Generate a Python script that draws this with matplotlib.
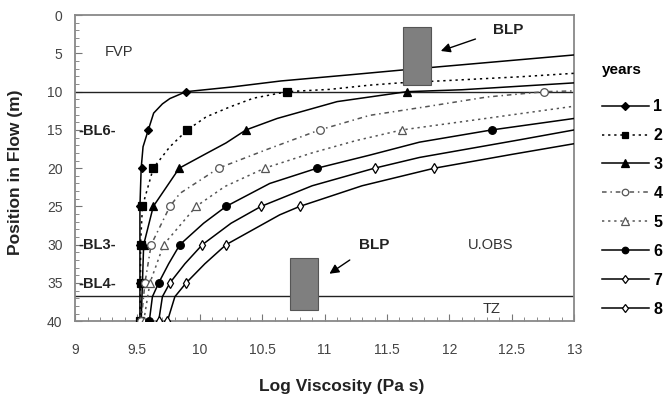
import matplotlib
matplotlib.use("Agg")
import matplotlib.pyplot as plt
from matplotlib.ticker import MultipleLocator
from matplotlib.patches import Rectangle

plt.rcParams['font.family'] = ['Liberation Sans', 'DejaVu Sans']

# ---- data ----
years = ['1', '2', '3', '4', '5', '6', '7', '8']
marker_depths = [10, 15, 20, 25, 30, 35, 40]

# marker positions (log viscosity) at each marker depth (None = no marker)
m1 = [9.89, 9.587, 9.534, 9.52, 9.52, 9.52, 9.52]
m2 = [10.70, 9.90, 9.627, 9.54, 9.525, 9.525, 9.52]
m3 = [11.66, 10.37, 9.835, 9.627, 9.55, 9.54, 9.53]
m4 = [12.76, 10.96, 10.15, 9.76, 9.61, 9.56, 9.53]
m5 = [None, 11.62, 10.52, 9.97, 9.71, 9.60, 9.55]
m6 = [None, 12.34, 10.94, 10.21, 9.84, 9.67, 9.595]
m7 = [None, None, 11.40, 10.49, 10.02, 9.76, 9.67]
m8 = [None, None, 11.88, 10.80, 10.21, 9.89, 9.74]

# curve paths (log viscosity, depth)
c1_x = [9.52, 9.52, 9.52, 9.52, 9.53, 9.545, 9.587, 9.63, 9.70, 9.76, 9.89, 10.25, 10.65, 11.2, 11.6, 12.3, 13.0]
c1_d = [40, 35, 30, 25, 20, 17.2, 15, 12.8, 11.6, 10.9, 10, 9.4, 8.6, 7.8, 7.2, 6.2, 5.2]
c2_x = [9.52, 9.525, 9.525, 9.54, 9.627, 9.76, 9.90, 10.05, 10.24, 10.43, 10.70, 11.04, 11.36, 11.6, 11.92, 12.56, 13.0]
c2_d = [40, 35, 30, 25, 20, 17.2, 15, 13.3, 12.0, 10.85, 10, 9.7, 9.15, 8.85, 8.6, 8.06, 7.6]
c3_x = [9.53, 9.54, 9.55, 9.627, 9.835, 10.05, 10.21, 10.37, 10.62, 11.1, 11.66, 12.1, 12.5, 13.0]
c3_d = [40, 35, 30, 25, 20, 18.1, 16.7, 15, 13.5, 11.3, 10, 9.75, 9.35, 8.85]
c4_x = [9.53, 9.56, 9.61, 9.76, 9.84, 10.15, 10.53, 10.96, 11.36, 11.8, 12.3, 12.76, 13.0]
c4_d = [40, 35, 30, 25, 23.3, 20, 17.6, 15, 13.1, 12.0, 10.7, 10, 9.9]
c5_x = [9.55, 9.60, 9.71, 9.97, 10.2, 10.52, 10.9, 11.25, 11.62, 12.38, 13.0]
c5_d = [40, 35, 30, 25, 22.4, 20, 18.0, 16.4, 15, 13.3, 11.9]
c6_x = [9.595, 9.62, 9.67, 9.75, 9.84, 10.03, 10.21, 10.56, 10.94, 11.36, 11.76, 12.34, 13.0]
c6_d = [40, 36.8, 35, 32.5, 30, 27.2, 25, 22.0, 20, 18.3, 16.6, 15, 13.5]
c7_x = [9.67, 9.70, 9.76, 9.88, 10.02, 10.25, 10.49, 10.9, 11.40, 11.76, 12.56, 13.0]
c7_d = [40, 36.8, 35, 32.5, 30, 27.2, 25, 22.3, 20, 18.6, 16.3, 15.0]
c8_x = [9.74, 9.80, 9.89, 10.04, 10.21, 10.64, 10.80, 11.3, 11.88, 12.5, 13.0]
c8_d = [40, 36.8, 35, 32.5, 30, 26.1, 25, 22.3, 20, 18.2, 16.8]

# ---- styles ----
styles = [
    dict(color='black', ls='-', marker='D', mfc='black', ms=4.5),
    dict(color='black', ls=(0, (1.5, 2.5)), marker='s', mfc='black', ms=5.5),
    dict(color='black', ls='-', marker='^', mfc='black', ms=6),
    dict(color='#555555', ls=(0, (3, 2.5, 1, 2.5)), marker='o', mfc='white', ms=5.5),
    dict(color='#555555', ls=(0, (1.5, 2.5)), marker='^', mfc='white', ms=6),
    dict(color='black', ls='-', marker='o', mfc='black', ms=5.5),
    dict(color='black', ls='-', marker='d', mfc='white', ms=5),
    dict(color='black', ls='-', marker='d', mfc='white', ms=5),
]
curves = [(c1_x, c1_d), (c2_x, c2_d), (c3_x, c3_d), (c4_x, c4_d),
          (c5_x, c5_d), (c6_x, c6_d), (c7_x, c7_d), (c8_x, c8_d)]
marks = [m1, m2, m3, m4, m5, m6, m7, m8]

fig = plt.figure(figsize=(6.70, 3.99), dpi=100)
ax = fig.add_axes([0.112, 0.195, 0.745, 0.767])

handles = []
for (cx, cd), mk, st, lab in zip(curves, marks, styles, years):
    ax.plot(cx, cd, color=st['color'], ls=st['ls'], lw=1.1, zorder=3)
    px = [v for v in mk if v is not None]
    pd_ = [d for v, d in zip(mk, marker_depths) if v is not None]
    ax.plot(px, pd_, ls='none', marker=st['marker'], ms=st['ms'],
            mfc=st['mfc'], mec=st['color'], mew=0.9, zorder=4)
    h, = ax.plot([], [], color=st['color'], ls=st['ls'], lw=1.1,
                 marker=st['marker'], ms=st['ms'] * 0.85, mfc=st['mfc'],
                 mec=st['color'], mew=0.9, label=lab)
    handles.append(h)

# boundary lines
ax.axhline(10, color='#222222', lw=1.0, zorder=2)
ax.axhline(36.7, color='#222222', lw=1.0, zorder=2)

# BLP boxes
ax.add_patch(Rectangle((11.63, 1.5), 0.22, 7.6, facecolor='#7f7f7f',
                       edgecolor='#555555', lw=0.8, zorder=5))
ax.add_patch(Rectangle((10.72, 31.7), 0.23, 6.8, facecolor='#7f7f7f',
                       edgecolor='#555555', lw=0.8, zorder=5))

# arrows and labels
ax.annotate('', xy=(11.91, 4.8), xytext=(12.23, 3.0),
            arrowprops=dict(arrowstyle='-|>', color='black', lw=1.0,
                            mutation_scale=14), zorder=6)
ax.annotate('', xy=(11.02, 34.0), xytext=(11.22, 31.8),
            arrowprops=dict(arrowstyle='-|>', color='black', lw=1.0,
                            mutation_scale=14), zorder=6)
ax.text(12.47, 2.0, 'BLP', fontsize=11, fontweight='bold', ha='center', va='center', color='#222222')
ax.text(11.40, 30.1, 'BLP', fontsize=11, fontweight='bold', ha='center', va='center', color='#222222')
ax.text(12.33, 30.1, 'U.OBS', fontsize=10.5, ha='center', va='center', color='#333333')
ax.text(12.34, 38.4, 'TZ', fontsize=10.5, ha='center', va='center', color='#333333')
ax.text(9.35, 4.8, 'FVP', fontsize=10.5, ha='center', va='center', color='#333333')
for lbl, d in [('-BL6-', 15.2), ('-BL3-', 30.0), ('-BL4-', 35.2)]:
    ax.text(9.03, d, lbl, fontsize=10.5, fontweight='bold', ha='left', va='center', color='#222222')

# axes
ax.set_xlim(9, 13)
ax.set_ylim(40, 0)
ax.xaxis.set_major_locator(MultipleLocator(0.5))
ax.xaxis.set_minor_locator(MultipleLocator(0.1))
ax.yaxis.set_major_locator(MultipleLocator(5))
ax.yaxis.set_minor_locator(MultipleLocator(1))
ax.set_xticks([9, 9.5, 10, 10.5, 11, 11.5, 12, 12.5, 13])
ax.set_xticklabels(['9', '9.5', '10', '10.5', '11', '11.5', '12', '12.5', '13'])
ax.tick_params(axis='both', which='both', direction='in', colors='#777777',
               labelcolor='#444444', labelsize=10)
ax.tick_params(axis='x', which='major', length=5, pad=16)
ax.tick_params(axis='x', which='minor', length=3)
ax.tick_params(axis='y', which='major', length=5, pad=9)
ax.tick_params(axis='y', which='minor', length=3)
for sp in ax.spines.values():
    sp.set_color('#888888')
    sp.set_linewidth(1.3)

ax.set_xlabel('Log Viscosity (Pa s)', fontsize=12.5, fontweight='bold', color='#222222')
ax.xaxis.set_label_coords(0.535, -0.19)
ax.set_ylabel('Position in Flow (m)', fontsize=12.5, fontweight='bold', color='#222222')
ax.yaxis.set_label_coords(-0.105, 0.487)

leg = fig.legend(handles=handles, loc='upper left', bbox_to_anchor=(0.887, 0.862),
                 frameon=False, title='years', alignment='left',
                 prop=dict(weight='bold', size=11.5), handlelength=2.9,
                 handletextpad=0.3, labelspacing=0.87, borderpad=0, numpoints=1)
leg.get_title().set_fontweight('bold')
leg.get_title().set_fontsize(11)
leg._legend_box.sep = 16

fig.savefig('out.png', dpi=100)
